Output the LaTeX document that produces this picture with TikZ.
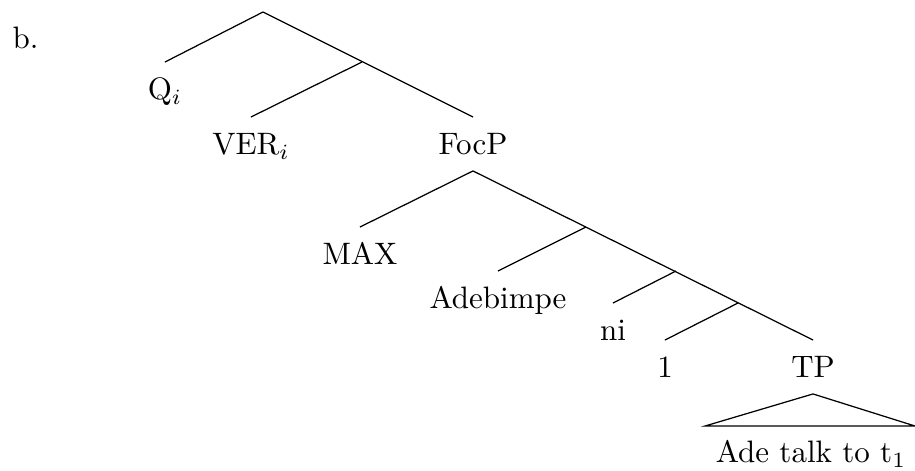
\documentclass[tikz,border=0pt]{standalone}
\usepackage{amsmath}
\usepackage{xcolor}
\usepackage{tikz}

\begin{document}
\begin{tikzpicture}[x=0.3226pt,y=0.3226pt,yscale=-1,xscale=1,
  lbl/.style={anchor=north,inner xsep=0pt,inner ysep=5pt,text height=7pt,text depth=0pt}]
\useasboundingbox (0,0) rectangle (915,470);
\draw (12,48) node [anchor=base west][inner sep=0pt] (ex) {b.};
% branch points
\coordinate (root) at (263,12);
\coordinate (qbar) at (362,62);
\coordinate (focbar) at (586,227);
\coordinate (nibar) at (676,271);
\coordinate (onebar) at (738,303);
\coordinate (trl) at (705,426);
\coordinate (trr) at (915,426);
% labels
\node [lbl] (q) at (165,62) {Q$_i$};
\node [lbl] (ver) at (251,117) {VER$_i$};
\node [lbl] (focp) at (473,117) {FocP};
\node [lbl] (max) at (360,227) {MAX};
\node [lbl] (ade) at (498,271) {Adebimpe};
\node [lbl] (ni) at (613,303) {ni};
\node [lbl] (one) at (665,340) {1};
\node [lbl] (tp) at (813,340) {TP};
\node [lbl] (tpc) at (811,425) {Ade talk to t$_1$};
% edges
\draw (root) -- (q.north);
\draw (root) -- (focp.north);
\draw (qbar) -- (ver.north);
\draw (focp.south) -- (max.north);
\draw (focp.south) -- (tp.north);
\draw (focbar) -- (ade.north);
\draw (nibar) -- (ni.north);
\draw (onebar) -- (one.north);
\draw (tp.south) -- (trl) -- (trr) -- cycle;
\end{tikzpicture}
\end{document}
